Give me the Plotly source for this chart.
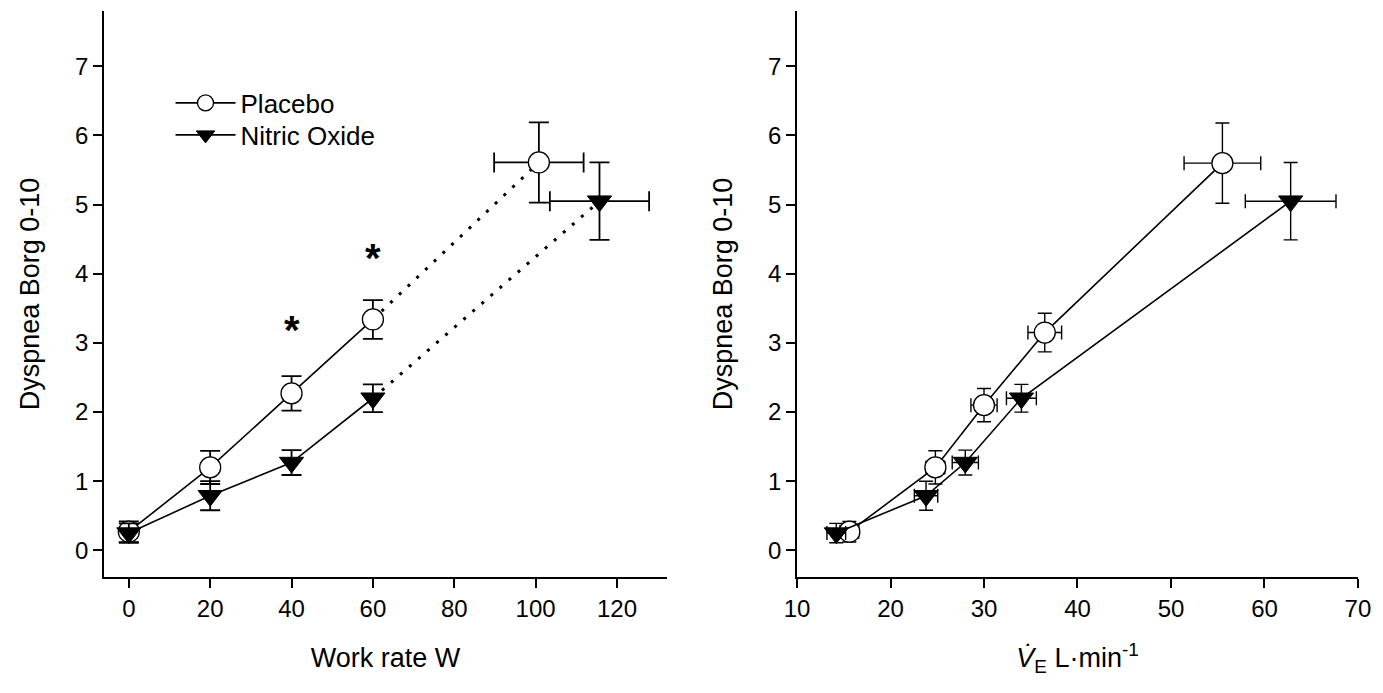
import plotly.graph_objects as go

# ---------------- data ----------------
work_rate_placebo = [0, 20, 40, 60, 100.8]
work_rate_no = [0, 20, 40, 60, 115.7]
work_rate_err_placebo = [0, 0, 0, 0, 11.0]
work_rate_err_no = [0, 0, 0, 0, 12.2]

dyspnea_placebo_w = [0.27, 1.20, 2.27, 3.34, 5.61]
dyspnea_placebo_w_err = [0.15, 0.24, 0.25, 0.28, 0.58]
dyspnea_no_w = [0.25, 0.79, 1.27, 2.20, 5.05]
dyspnea_no_w_err = [0.14, 0.21, 0.18, 0.20, 0.56]

ve_placebo = [15.6, 24.8, 30.0, 36.5, 55.5]
ve_placebo_err = [1.0, 1.0, 1.4, 1.8, 4.1]
ve_no = [14.2, 23.8, 28.0, 34.0, 62.8]
ve_no_err = [1.0, 1.25, 1.4, 1.6, 4.85]

dyspnea_placebo_ve = [0.27, 1.20, 2.10, 3.15, 5.60]
dyspnea_placebo_ve_err = [0.15, 0.24, 0.24, 0.28, 0.58]
dyspnea_no_ve = [0.25, 0.79, 1.27, 2.20, 5.05]
dyspnea_no_ve_err = [0.14, 0.21, 0.18, 0.20, 0.56]

asterisk_x = [40, 60]
asterisk_y = [3.16, 4.20]

y_ticks = [0, 1, 2, 3, 4, 5, 6, 7]
x1_ticks = [0, 20, 40, 60, 80, 100, 120]
x2_ticks = [10, 20, 30, 40, 50, 60, 70]

FONT = "Liberation Sans, Arial, sans-serif"
BLACK = "black"
DOTS = "3px,9px"

fig = go.Figure()

def err(arr, thick=1.8, width=10):
    return dict(type="data", array=arr, visible=True, color=BLACK,
                thickness=thick, width=width)

# ---------- Left panel ----------
fig.add_trace(go.Scatter(x=work_rate_placebo[3:], y=dyspnea_placebo_w[3:],
                         mode="lines", line=dict(color=BLACK, width=3, dash=DOTS),
                         showlegend=False, xaxis="x", yaxis="y", hoverinfo="skip"))
fig.add_trace(go.Scatter(x=work_rate_no[3:], y=dyspnea_no_w[3:],
                         mode="lines", line=dict(color=BLACK, width=3, dash=DOTS),
                         showlegend=False, xaxis="x", yaxis="y", hoverinfo="skip"))

fig.add_trace(go.Scatter(x=work_rate_placebo[:4], y=dyspnea_placebo_w[:4],
                         mode="lines+markers", name="Placebo", legend="legend",
                         line=dict(color=BLACK, width=1.6),
                         marker=dict(symbol="circle", size=21, color="white",
                                     line=dict(color=BLACK, width=1.3)),
                         error_y=err(dyspnea_placebo_w_err[:4]),
                         xaxis="x", yaxis="y"))
fig.add_trace(go.Scatter(x=work_rate_no[:4], y=dyspnea_no_w[:4],
                         mode="lines+markers", name="Nitric Oxide", legend="legend2",
                         line=dict(color=BLACK, width=1.6),
                         marker=dict(symbol="triangle-down", size=21, color=BLACK,
                                     line=dict(color=BLACK, width=1)),
                         error_y=err(dyspnea_no_w_err[:4]),
                         xaxis="x", yaxis="y"))
fig.add_trace(go.Scatter(x=work_rate_placebo[4:], y=dyspnea_placebo_w[4:],
                         mode="markers", showlegend=False,
                         marker=dict(symbol="circle", size=21, color="white",
                                     line=dict(color=BLACK, width=1.3)),
                         error_y=err(dyspnea_placebo_w_err[4:]),
                         error_x=err(work_rate_err_placebo[4:]),
                         xaxis="x", yaxis="y"))
fig.add_trace(go.Scatter(x=work_rate_no[4:], y=dyspnea_no_w[4:],
                         mode="markers", showlegend=False,
                         marker=dict(symbol="triangle-down", size=21, color=BLACK,
                                     line=dict(color=BLACK, width=1)),
                         error_y=err(dyspnea_no_w_err[4:]),
                         error_x=err(work_rate_err_no[4:]),
                         xaxis="x", yaxis="y"))

# ---------- Right panel ----------
fig.add_trace(go.Scatter(x=ve_placebo, y=dyspnea_placebo_ve,
                         mode="lines+markers", showlegend=False,
                         line=dict(color=BLACK, width=1.6),
                         marker=dict(symbol="circle", size=21, color="white",
                                     line=dict(color=BLACK, width=1.3)),
                         error_y=err(dyspnea_placebo_ve_err, 1.4, 7),
                         error_x=err(ve_placebo_err, 1.4, 7),
                         xaxis="x2", yaxis="y2"))
fig.add_trace(go.Scatter(x=ve_no, y=dyspnea_no_ve,
                         mode="lines+markers", showlegend=False,
                         line=dict(color=BLACK, width=1.6),
                         marker=dict(symbol="triangle-down", size=21, color=BLACK,
                                     line=dict(color=BLACK, width=1)),
                         error_y=err(dyspnea_no_ve_err, 1.4, 7),
                         error_x=err(ve_no_err, 1.4, 7),
                         xaxis="x2", yaxis="y2"))

annotations = []
for ax, ay in zip(asterisk_x, asterisk_y):
    annotations.append(dict(x=ax, y=ay, xref="x", yref="y", text="<b>*</b>",
                            showarrow=False, yshift=2,
                            font=dict(family=FONT, size=40, color=BLACK)))

axis_common = dict(showline=True, linecolor=BLACK, linewidth=1.5, ticks="outside",
                   ticklen=9, tickwidth=1.5, tickcolor=BLACK, showgrid=False,
                   zeroline=False, mirror=False, automargin=False,
                   tickfont=dict(family=FONT, size=24, color=BLACK),
                   title_font=dict(family=FONT, size=27, color=BLACK))

legend_common = dict(xanchor="left", yanchor="middle", bgcolor="rgba(0,0,0,0)",
                     font=dict(family=FONT, size=26, color=BLACK), itemwidth=60)

fig.update_layout(
    width=1383, height=693,
    margin=dict(l=0, r=0, t=0, b=0),
    paper_bgcolor="white", plot_bgcolor="white",
    font=dict(family=FONT, color=BLACK),
    showlegend=True,
    legend=dict(x=0.1233, y=1 - 103 / 693, **legend_common),
    legend2=dict(x=0.1233, y=1 - 135 / 693, **legend_common),
    xaxis=dict(domain=[0.0752, 0.4823], range=[-6.1, 132.3], tickvals=x1_ticks,
               anchor="y", title=dict(text="Work rate W", standoff=28), **axis_common),
    yaxis=dict(domain=[0.1674, 0.9841], range=[-0.385, 7.8], tickvals=y_ticks,
               anchor="x", title=dict(text="Dyspnea Borg 0-10", standoff=28), **axis_common),
    xaxis2=dict(domain=[0.5763, 0.9819], range=[10, 70], tickvals=x2_ticks,
                anchor="y2",
                title=dict(text="<i>V̇</i><sub>E</sub> L·min<sup>-1</sup>", standoff=28),
                **axis_common),
    yaxis2=dict(domain=[0.1674, 0.9841], range=[-0.385, 7.8], tickvals=y_ticks,
                anchor="x2", title=dict(text="Dyspnea Borg 0-10", standoff=28), **axis_common),
    annotations=annotations,
)

fig.write_html("out.html")
